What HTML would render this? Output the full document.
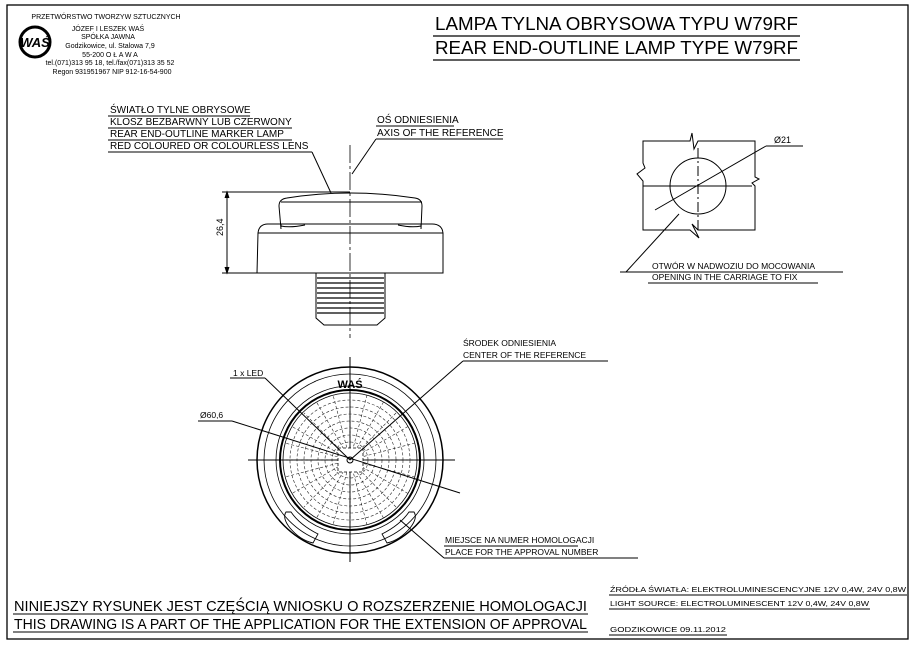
<!DOCTYPE html>
<html><head><meta charset="utf-8"><style>
html,body{margin:0;padding:0;background:#fff;}
svg{display:block;font-family:"Liberation Sans",sans-serif;}
</style></head><body>
<svg width="913" height="645" viewBox="0 0 913 645" xmlns="http://www.w3.org/2000/svg">
<rect x="7" y="5" width="901" height="634" fill="none" stroke="#000" stroke-width="1.3"/>
<!-- logo -->
<circle cx="35" cy="42" r="15" fill="none" stroke="#000" stroke-width="3"/>
<text x="35" y="47" font-size="13" font-weight="bold" text-anchor="middle" font-style="italic">WAŚ</text>
<g font-size="7" text-anchor="middle">
<text x="106" y="19">PRZETWÓRSTWO TWORZYW SZTUCZNYCH</text>
<text x="108" y="31">JÓZEF I LESZEK WAŚ</text>
<text x="108" y="39">SPÓŁKA JAWNA</text>
<text x="110" y="48">Godzikowice, ul. Stalowa 7,9</text>
<text x="110" y="57">55-200  O Ł A W A</text>
<text x="110" y="65">tel.(071)313 95 18, tel./fax(071)313 35 52</text>
<text x="112" y="74">Regon 931951967 NIP 912-16-54-900</text>
</g>
<!-- title -->
<g font-size="18.5">
<text x="435" y="30" textLength="363" lengthAdjust="spacingAndGlyphs">LAMPA TYLNA OBRYSOWA TYPU W79RF</text>
<text x="435" y="54" textLength="363" lengthAdjust="spacingAndGlyphs">REAR END-OUTLINE LAMP TYPE W79RF</text>
</g>
<line x1="433" y1="36" x2="800" y2="36" stroke="#000" stroke-width="1.2"/>
<line x1="433" y1="60" x2="800" y2="60" stroke="#000" stroke-width="1.2"/>
<!-- top labels -->
<g font-size="10">
<text x="110" y="113">ŚWIATŁO TYLNE OBRYSOWE</text>
<text x="110" y="125">KLOSZ BEZBARWNY LUB CZERWONY</text>
<text x="110" y="137">REAR END-OUTLINE MARKER LAMP</text>
<text x="110" y="149">RED COLOURED OR COLOURLESS LENS</text>
<text x="377" y="123">OŚ ODNIESIENIA</text>
<text x="377" y="136">AXIS OF THE REFERENCE</text>
</g>
<g stroke="#000" stroke-width="1" fill="none">
<line x1="108" y1="116" x2="250" y2="116"/><line x1="108" y1="128" x2="292" y2="128"/>
<line x1="108" y1="140" x2="292" y2="140"/><line x1="108" y1="152" x2="312" y2="152"/>
<line x1="312" y1="152" x2="331" y2="193"/>
<line x1="376" y1="126" x2="454" y2="126"/><line x1="376" y1="139" x2="503" y2="139"/>
<line x1="376" y1="139" x2="352" y2="174"/>
<!-- side view -->
<line x1="350" y1="145" x2="350" y2="338" stroke-dasharray="18,3,3,3" stroke-width="0.8"/>
<path d="M281,229 L279,206 Q279,199 287,198 Q350,188 415,198 Q422,199 422,206 L421,229"/>
<line x1="281" y1="202" x2="422" y2="202"/>
<path d="M281,224 L281,227 M421,224 L421,227 M281,226 Q290,228 305,225 M421,226 Q412,228 398,225"/>
<path d="M257,273 L258,233 Q259,224 268,224 L432,224 Q442,224 443,233 L443,273 Z"/>
<line x1="258" y1="233" x2="443" y2="233"/>
<line x1="222" y1="273" x2="257" y2="273"/><line x1="222" y1="192" x2="350" y2="192"/>
<line x1="227" y1="192" x2="227" y2="273"/>
<path d="M225,198 L227,192 L229,198 M225,267 L227,273 L229,267" fill="#000"/>
<path d="M316,273 L385,273 L385,318 L377,325 L324,325 L316,318 Z"/>
</g>
<text x="223" y="236" font-size="9" transform="rotate(-90 223 236)">26,4</text>
<g stroke="#000" stroke-width="1.3">
<line x1="317" y1="278" x2="384" y2="278"/><line x1="317" y1="283" x2="384" y2="283"/>
<line x1="317" y1="288" x2="384" y2="288"/><line x1="317" y1="293" x2="384" y2="293"/>
<line x1="317" y1="298" x2="384" y2="298"/><line x1="317" y1="303" x2="384" y2="303"/>
<line x1="317" y1="308" x2="384" y2="308"/><line x1="317" y1="313" x2="384" y2="313"/>
</g>
<!-- right hole -->
<g stroke="#000" stroke-width="1" fill="none">
<path d="M643,141 L690,141 L692,133 L694,149 L698,141 L755,141 L755,177 L759,179 L752,183 L755,186 L755,230 L698,230 L692,224 L699,238 L690,230 L643,230 L643,181 L637,174 L645,168 L643,163 Z"/>
<line x1="643" y1="186" x2="752" y2="186"/>
<line x1="698" y1="148" x2="698" y2="230" stroke-dasharray="10,3,2,3"/>
<circle cx="698" cy="186" r="28"/>
<line x1="655" y1="210" x2="766" y2="146"/><line x1="766" y1="146" x2="803" y2="146"/>
<line x1="679" y1="214" x2="626" y2="272"/>
<line x1="620" y1="272" x2="843" y2="272"/><line x1="648" y1="283" x2="818" y2="283"/>
</g>
<text x="774" y="143" font-size="9">Ø21</text>
<g font-size="8.5"><text x="652" y="269">OTWÓR W NADWOZIU DO MOCOWANIA</text><text x="652" y="280">OPENING IN THE CARRIAGE TO FIX</text></g>
<!-- front view -->
<g stroke="#000" fill="none">
<line x1="248" y1="460" x2="455" y2="460" stroke-width="1"/>
<line x1="350" y1="357" x2="350" y2="562" stroke-width="1"/>
<circle cx="350" cy="460" r="93" stroke-width="1.5"/>
<circle cx="350" cy="460" r="86" stroke-width="0.8"/>
<circle cx="350" cy="460" r="74" stroke-width="0.8"/>
<circle cx="350" cy="460" r="70" stroke-width="2"/>
<circle cx="350" cy="460" r="67" stroke-width="0.8"/>
<g stroke-width="0.6" stroke-dasharray="3,2" stroke="#222">
<circle cx="350" cy="460" r="60"/><circle cx="350" cy="460" r="53"/><circle cx="350" cy="460" r="46"/>
<circle cx="350" cy="460" r="39"/><circle cx="350" cy="460" r="32"/><circle cx="350" cy="460" r="25"/>
<circle cx="350" cy="460" r="18"/>
</g>
<g stroke-width="0.6" stroke="#222" stroke-dasharray="3,2">
<path d="M350,393 L350,527 M283,460 L417,460 M383.5,402 L316.5,518 M408,426.5 L292,493.5 M408,493.5 L292,426.5 M383.5,518 L316.5,402 M367,395 L333,525 M396,413 L304,507 M415,443 L285,477 M415,477 L285,443 M396,507 L304,413 M367,525 L333,395"/>
</g>
<rect x="338" y="448" width="25" height="24" fill="#fff" stroke-dasharray="3,2" stroke-width="0.8"/>
<circle cx="350" cy="460" r="3"/>
<path d="M286,512 Q282,518 290,528 Q300,540 313,543 L318,534 Q300,525 291,512 Z" stroke-width="0.9"/>
<path d="M414,512 Q418,518 410,528 Q400,540 387,543 L382,534 Q400,525 409,512 Z" stroke-width="0.9"/>
<g stroke-width="1">
<line x1="230" y1="378" x2="265" y2="378"/><line x1="265" y1="378" x2="350" y2="460"/>
<line x1="198" y1="421" x2="232" y2="421"/><line x1="232" y1="421" x2="460" y2="493"/>
<line x1="463" y1="361" x2="608" y2="361"/><line x1="463" y1="361" x2="350" y2="460"/>
<line x1="444" y1="546" x2="578" y2="546"/><line x1="444" y1="558" x2="638" y2="558"/>
<line x1="444" y1="558" x2="400" y2="520"/>
</g>
</g>
<text x="350" y="388" font-size="11" font-weight="bold" text-anchor="middle">WAŚ</text>
<g font-size="8.5">
<text x="233" y="376">1 x LED</text>
<text x="200" y="418">Ø60,6</text>
<text x="463" y="346">ŚRODEK ODNIESIENIA</text>
<text x="463" y="358">CENTER OF THE REFERENCE</text>
<text x="445" y="543">MIEJSCE NA NUMER HOMOLOGACJI</text>
<text x="445" y="555">PLACE FOR THE APPROVAL NUMBER</text>
</g>
<!-- bottom -->
<g font-size="14.5">
<text x="14" y="611" textLength="573" lengthAdjust="spacingAndGlyphs">NINIEJSZY RYSUNEK JEST CZĘŚCIĄ WNIOSKU O  ROZSZERZENIE HOMOLOGACJI</text>
<text x="14" y="629" textLength="573" lengthAdjust="spacingAndGlyphs">THIS DRAWING IS A PART OF THE APPLICATION FOR THE EXTENSION OF APPROVAL</text>
</g>
<line x1="13" y1="614" x2="588" y2="614" stroke="#000"/>
<line x1="13" y1="632" x2="588" y2="632" stroke="#000"/>
<g font-size="7.5">
<text x="610" y="592" textLength="296" lengthAdjust="spacingAndGlyphs">ŹRÓDŁA ŚWIATŁA: ELEKTROLUMINESCENCYJNE  12V  0,4W, 24V  0,8W</text>
<text x="610" y="606" textLength="259" lengthAdjust="spacingAndGlyphs">LIGHT SOURCE: ELECTROLUMINESCENT  12V  0,4W, 24V  0,8W</text>
<text x="610" y="632" textLength="116" lengthAdjust="spacingAndGlyphs">GODZIKOWICE   09.11.2012</text>
</g>
<g stroke="#000" stroke-width="0.9">
<line x1="609" y1="595" x2="907" y2="595"/><line x1="609" y1="609" x2="870" y2="609"/><line x1="609" y1="635" x2="727" y2="635"/>
</g>
</svg>
</body></html>
